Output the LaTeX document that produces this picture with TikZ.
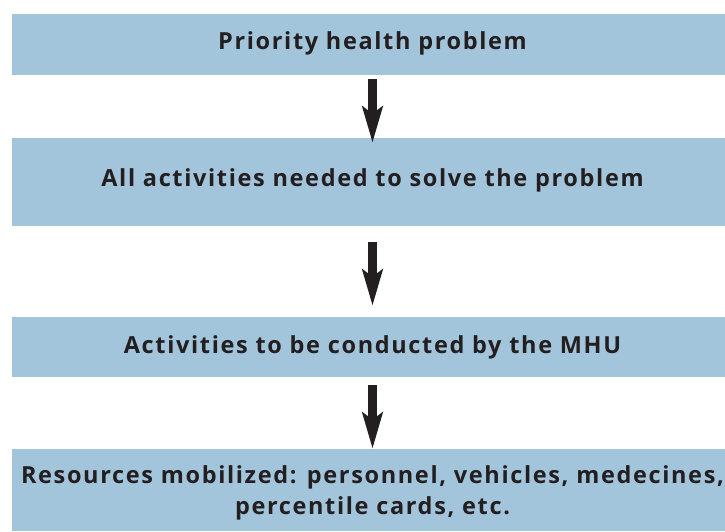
\documentclass[tikz,border=0pt]{standalone}
\usepackage{fontspec}
\newfontfamily\boxfont{Open Sans}[LetterSpace=7]
\usetikzlibrary{arrows.meta}
\definecolor{boxblue}{RGB}{162,197,220}
\definecolor{arrowdark}{RGB}{35,31,32}
\tikzset{
  flowbox/.style={fill=boxblue, draw=none, minimum width=721pt, inner sep=0pt, align=center,
    text=arrowdark, font=\boxfont\fontsize{23.5}{31.6}\selectfont\bfseries},
  flowarrow/.style={draw=arrowdark, line width=8.5pt, -{Stealth[length=36pt,width=20pt,inset=7pt]}}
}
\begin{document}
\begin{tikzpicture}[x=1pt,y=-1pt]
\useasboundingbox (0,0) rectangle (725,531);
\begin{scope}
\clip (0,0) rectangle (725,531);
\node[flowbox, minimum height=61pt, text height=17.5pt, text depth=8.4pt] (b1) at (372.5,44.5) {Priority health problem};
\node[flowbox, minimum height=88pt, text height=17pt, text depth=9pt] (b2) at (372.5,182) {All activities needed to solve the problem};
\node[flowbox, minimum height=60pt, text height=18pt, text depth=6pt] (b3) at (372.5,347) {Activities to be conducted by the MHU};
\node[flowbox, minimum height=82pt] (b4) at (372.5,490) {\rule{0pt}{24pt}Resources mobilized: personnel, vehicles, medecines,\\percentile cards, etc.};
\end{scope}
\draw[flowarrow] ([yshift=-4pt]b1.south) -- ([yshift=-5pt]b2.north);
\draw[flowarrow] ([yshift=-16pt]b2.south) -- ([yshift=11pt]b3.north);
\draw[flowarrow] ([yshift=-8pt]b3.south) -- (b4.north);
\end{tikzpicture}
\end{document}
